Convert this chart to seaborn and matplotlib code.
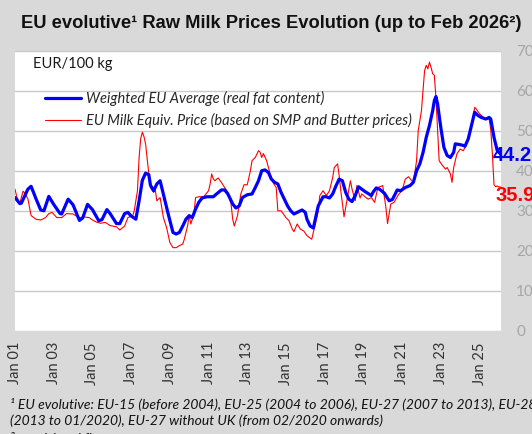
import pandas as pd
import matplotlib
matplotlib.use("Agg")
import matplotlib.pyplot as plt
import matplotlib.dates as mdates
import seaborn as sns

# ---------------- data ----------------
blue_dates = [
    "2001-01", "2001-04", "2001-05", "2001-09", "2001-11", "2002-02", "2002-05", "2002-07",
    "2002-10", "2003-01", "2003-05", "2003-06", "2003-10", "2004-01", "2004-05", "2004-07",
    "2004-10", "2005-01", "2005-05", "2005-07", "2005-10", "2005-12", "2006-04", "2006-06",
    "2006-09", "2006-11", "2007-01", "2007-04", "2007-06", "2007-08", "2007-10", "2007-12",
    "2008-01", "2008-03", "2008-05", "2008-07", "2008-08", "2008-10", "2008-12", "2009-03",
    "2009-05", "2009-07", "2009-09", "2009-11", "2010-01", "2010-03", "2010-05", "2010-07",
    "2010-09", "2010-12", "2011-04", "2011-06", "2011-09", "2011-11", "2012-01", "2012-04",
    "2012-06", "2012-08", "2012-10", "2013-01", "2013-04", "2013-06", "2013-08", "2013-10",
    "2013-12", "2014-02", "2014-04", "2014-06", "2014-08", "2014-10", "2014-12", "2015-02",
    "2015-04", "2015-06", "2015-08", "2015-11", "2016-01", "2016-02", "2016-04", "2016-06",
    "2016-07", "2016-09", "2016-12", "2017-02", "2017-04", "2017-06", "2017-08", "2017-10",
    "2017-12", "2018-02", "2018-04", "2018-06", "2018-08", "2018-10", "2018-12", "2019-02",
    "2019-04", "2019-06", "2019-07", "2019-09", "2019-11", "2020-02", "2020-05", "2020-07",
    "2020-10", "2020-12", "2021-03", "2021-06", "2021-08", "2021-10", "2021-12", "2022-02",
    "2022-04", "2022-06", "2022-08", "2022-09", "2022-10", "2022-11", "2023-01", "2023-03",
    "2023-05", "2023-07", "2023-09", "2023-10", "2024-01", "2024-03", "2024-04", "2024-06",
    "2024-08", "2024-10", "2024-12", "2025-02", "2025-05", "2025-07", "2025-08", "2025-10",
    "2025-12", "2026-02",
]
blue_values = [
    33.3, 31.8, 31.9, 35.4, 36.1, 33.0, 30.2, 30.0,
    33.6, 31.6, 29.3, 29.2, 32.9, 31.5, 27.6, 28.2,
    31.6, 30.3, 27.5, 27.8, 30.3, 29.3, 26.8, 26.8,
    29.3, 29.6, 28.7, 27.9, 32.5, 37.6, 39.4, 39.0,
    36.4, 35.0, 36.7, 37.5, 35.8, 32.5, 29.2, 24.6,
    24.2, 24.6, 26.2, 27.9, 28.8, 28.3, 30.4, 32.1,
    33.2, 33.5, 33.5, 34.2, 35.2, 35.2, 34.2, 31.7,
    30.7, 31.2, 33.3, 34.0, 34.2, 35.8, 37.5, 40.0,
    40.2, 39.6, 37.9, 37.1, 36.7, 34.6, 32.9, 31.2,
    30.0, 29.2, 29.6, 30.2, 29.6, 27.9, 26.2, 25.7,
    27.5, 31.2, 33.5, 33.5, 33.2, 34.2, 36.2, 37.9,
    37.5, 34.6, 32.9, 32.3, 33.8, 36.0, 35.4, 34.8,
    34.3, 33.8, 34.6, 35.7, 35.4, 34.4, 32.5, 32.8,
    35.2, 35.0, 35.8, 36.3, 37.1, 40.0, 41.7, 44.6,
    48.3, 51.3, 55.0, 57.5, 58.5, 56.7, 50.8, 45.8,
    43.8, 43.3, 44.6, 46.7, 46.5, 46.3, 46.1, 47.9,
    51.3, 54.6, 53.8, 53.3, 52.9, 53.3, 52.9, 48.3,
    45.0, 44.2,
]

red_dates = [
    "2001-01", "2001-02", "2001-04", "2001-06", "2001-07", "2001-09", "2001-11", "2002-02",
    "2002-05", "2002-08", "2002-10", "2002-12", "2003-03", "2003-06", "2003-09", "2004-01",
    "2004-05", "2004-07", "2004-11", "2005-01", "2005-04", "2005-06", "2005-09", "2005-12",
    "2006-04", "2006-06", "2006-09", "2006-11", "2007-02", "2007-03", "2007-05", "2007-06",
    "2007-07", "2007-08", "2007-09", "2007-10", "2007-12", "2008-01", "2008-03", "2008-04",
    "2008-05", "2008-07", "2008-08", "2008-09", "2008-11", "2009-01", "2009-03", "2009-05",
    "2009-07", "2009-09", "2009-10", "2009-12", "2010-01", "2010-02", "2010-04", "2010-05",
    "2010-07", "2010-10", "2011-01", "2011-02", "2011-03", "2011-04", "2011-05", "2011-07",
    "2011-09", "2011-11", "2012-01", "2012-03", "2012-04", "2012-05", "2012-07", "2012-09",
    "2012-11", "2013-01", "2013-03", "2013-04", "2013-06", "2013-08", "2013-09", "2013-10",
    "2013-11", "2014-01", "2014-03", "2014-05", "2014-07", "2014-08", "2014-10", "2015-01",
    "2015-03", "2015-05", "2015-06", "2015-08", "2015-10", "2015-12", "2016-02", "2016-04",
    "2016-05", "2016-07", "2016-09", "2016-10", "2016-12", "2017-02", "2017-04", "2017-06",
    "2017-07", "2017-09", "2017-10", "2017-11", "2018-01", "2018-03", "2018-05", "2018-06",
    "2018-08", "2018-09", "2018-11", "2018-12", "2019-02", "2019-04", "2019-06", "2019-08",
    "2019-10", "2020-01", "2020-03", "2020-04", "2020-06", "2020-08", "2020-11", "2021-01",
    "2021-03", "2021-05", "2021-07", "2021-08", "2021-10", "2021-11", "2022-01", "2022-03",
    "2022-04", "2022-05", "2022-06", "2022-07", "2022-08", "2022-09", "2022-10", "2022-11",
    "2022-12", "2023-02", "2023-04", "2023-05", "2023-07", "2023-08", "2023-09", "2023-11",
    "2024-01", "2024-03", "2024-04", "2024-06", "2024-07", "2024-09", "2024-10", "2024-11",
    "2025-01", "2025-03", "2025-05", "2025-07", "2025-08", "2025-09", "2025-10", "2025-11",
    "2025-12", "2026-01", "2026-02",
]
red_values = [
    35.4, 33.6, 31.8, 34.9, 34.5, 33.0, 28.8, 27.9,
    27.7, 28.3, 29.3, 29.6, 28.3, 28.3, 29.3, 29.2,
    28.2, 28.5, 28.3, 27.7, 27.1, 26.9, 27.1, 26.3,
    26.0, 25.2, 26.2, 28.3, 28.8, 30.0, 35.0, 43.3,
    48.0, 49.6, 48.5, 46.7, 39.2, 35.8, 34.6, 35.2,
    32.5, 33.3, 30.8, 28.3, 25.8, 22.1, 20.8, 20.8,
    21.3, 21.7, 22.9, 26.2, 28.8, 26.7, 29.2, 33.3,
    33.5, 33.5, 35.0, 36.7, 39.2, 38.0, 37.5, 38.2,
    37.1, 35.8, 34.6, 31.7, 27.9, 26.2, 28.8, 34.2,
    36.5, 36.5, 40.0, 42.5, 43.3, 45.0, 44.6, 43.3,
    44.3, 42.5, 39.6, 37.1, 35.8, 30.0, 30.0, 28.3,
    27.5, 25.4, 24.8, 26.7, 25.4, 25.0, 23.8, 23.2,
    22.9, 26.3, 30.0, 33.8, 35.0, 33.8, 35.0, 38.3,
    40.8, 41.7, 38.8, 35.0, 28.5, 32.9, 37.5, 35.4,
    32.5, 36.3, 33.2, 34.2, 33.5, 32.9, 33.3, 32.1,
    35.8, 36.3, 30.8, 26.8, 31.7, 32.1, 34.2, 35.0,
    37.9, 38.5, 37.5, 37.1, 42.5, 50.0, 55.0, 65.0,
    66.3, 65.4, 67.1, 65.8, 64.2, 63.8, 58.3, 50.2,
    42.5, 41.3, 40.4, 40.8, 39.2, 37.1, 40.8, 44.2,
    45.4, 45.0, 45.8, 48.3, 49.2, 53.3, 55.8, 55.4,
    54.2, 53.5, 52.9, 52.9, 50.2, 44.0, 36.5, 36.0,
    36.2, 36.0, 35.9,
]

blue_label = "Weighted EU Average (real fat content)"
red_label = "EU Milk Equiv. Price (based on SMP and Butter prices)"
title = "EU evolutive\u00b9 Raw Milk Prices Evolution (up to Feb 2026\u00b2)"
unit_label = "EUR/100 kg"
footnote_lines = [
    "\u00b9 EU evolutive: EU-15 (before 2004), EU-25 (2004 to 2006), EU-27 (2007 to 2013), EU-28",
    "(2013 to 01/2020), EU-27 without UK (from 02/2020 onwards)",
    "\u00b2 provisional figures",
]
y_ticks = [0, 10, 20, 30, 40, 50, 60, 70]
x_tick_years = list(range(2001, 2026, 2))

# ---------------- frames ----------------
df_blue = pd.DataFrame({"date": pd.to_datetime(blue_dates), "value": blue_values})
df_red = pd.DataFrame({"date": pd.to_datetime(red_dates), "value": red_values})

# ---------------- style ----------------
sns.set_theme(style="white")
plt.rcParams["font.family"] = ["Lato", "DejaVu Sans"]

BG = "#d9d9d9"
BLUE = "#0000ff"
RED = "#ff0000"

fig = plt.figure(figsize=(5.32, 4.34), dpi=100, facecolor=BG)
ax = fig.add_axes([15 / 532, 1 - 331 / 434, (501 - 15) / 532, (331 - 50.5) / 434])
ax.set_facecolor("white")

sns.lineplot(data=df_red, x="date", y="value", color=RED, linewidth=0.8,
             ax=ax, label=red_label, zorder=3)
sns.lineplot(data=df_blue, x="date", y="value", color=BLUE, linewidth=2.3,
             ax=ax, label=blue_label, zorder=4)

ax.set_ylim(0, 70)
ax.set_xlim(pd.Timestamp("2001-01-01"), pd.Timestamp("2026-02-10"))
ax.set_xlabel("")
ax.set_ylabel("")

# y axis on the right, grey labels
ax.yaxis.tick_right()
ax.set_yticks(y_ticks)
ax.tick_params(axis="y", length=0, pad=11, labelsize=11, labelcolor="#a6a6a6")
ax.yaxis.grid(True, color="#c9c9c9", linewidth=1.0)
ax.set_axisbelow(True)

# x axis
ax.set_xticks([pd.Timestamp(f"{y}-01-01") for y in x_tick_years])
ax.xaxis.set_major_formatter(mdates.DateFormatter("Jan %y"))
ax.tick_params(axis="x", length=0, pad=8, labelsize=10.5, labelcolor="#333333",
               rotation=90)

for s in ax.spines.values():
    s.set_visible(False)

# legend
handles, labels = ax.get_legend_handles_labels()
order = [labels.index(blue_label), labels.index(red_label)]
leg = ax.legend([handles[i] for i in order], [labels[i] for i in order],
                loc="upper left", bbox_to_anchor=(0.049, 0.875), frameon=False,
                prop={"style": "italic", "size": 10.5}, handlelength=2.5,
                handletextpad=0.35, labelspacing=0.45, borderaxespad=0)

# unit label
fig.text(33 / 532, 1 - 64 / 434, unit_label, fontsize=10.5, color="#1a1a1a",
         va="center", ha="left")

# end labels
ax.annotate(f"{blue_values[-1]:.1f}", xy=(df_blue["date"].iloc[-1], blue_values[-1]),
            xytext=(-8, -2), textcoords="offset pixels", color=BLUE,
            fontsize=14.5, fontweight="bold", va="center", ha="left",
            family="Liberation Sans", annotation_clip=False, zorder=6)
ax.annotate(f"{red_values[-1]:.1f}", xy=(df_red["date"].iloc[-1], red_values[-1]),
            xytext=(-5, -8), textcoords="offset pixels", color=RED,
            fontsize=14.5, fontweight="bold", va="center", ha="left",
            family="Liberation Sans", annotation_clip=False, zorder=6)

# title
fig.text(0.509, 1 - 23 / 434, title, ha="center", va="center",
         fontsize=13.2, fontweight="bold", family="Liberation Sans", color="#111111")

# footnotes
for i, yc in zip(range(len(footnote_lines)), [403.5, 420.5, 438.5]):
    fig.text(10 / 532, 1 - yc / 434, footnote_lines[i], ha="left", va="center",
             fontsize=10.0, style="italic", color="#111111")

fig.savefig("out.png", dpi=100, facecolor=BG)
